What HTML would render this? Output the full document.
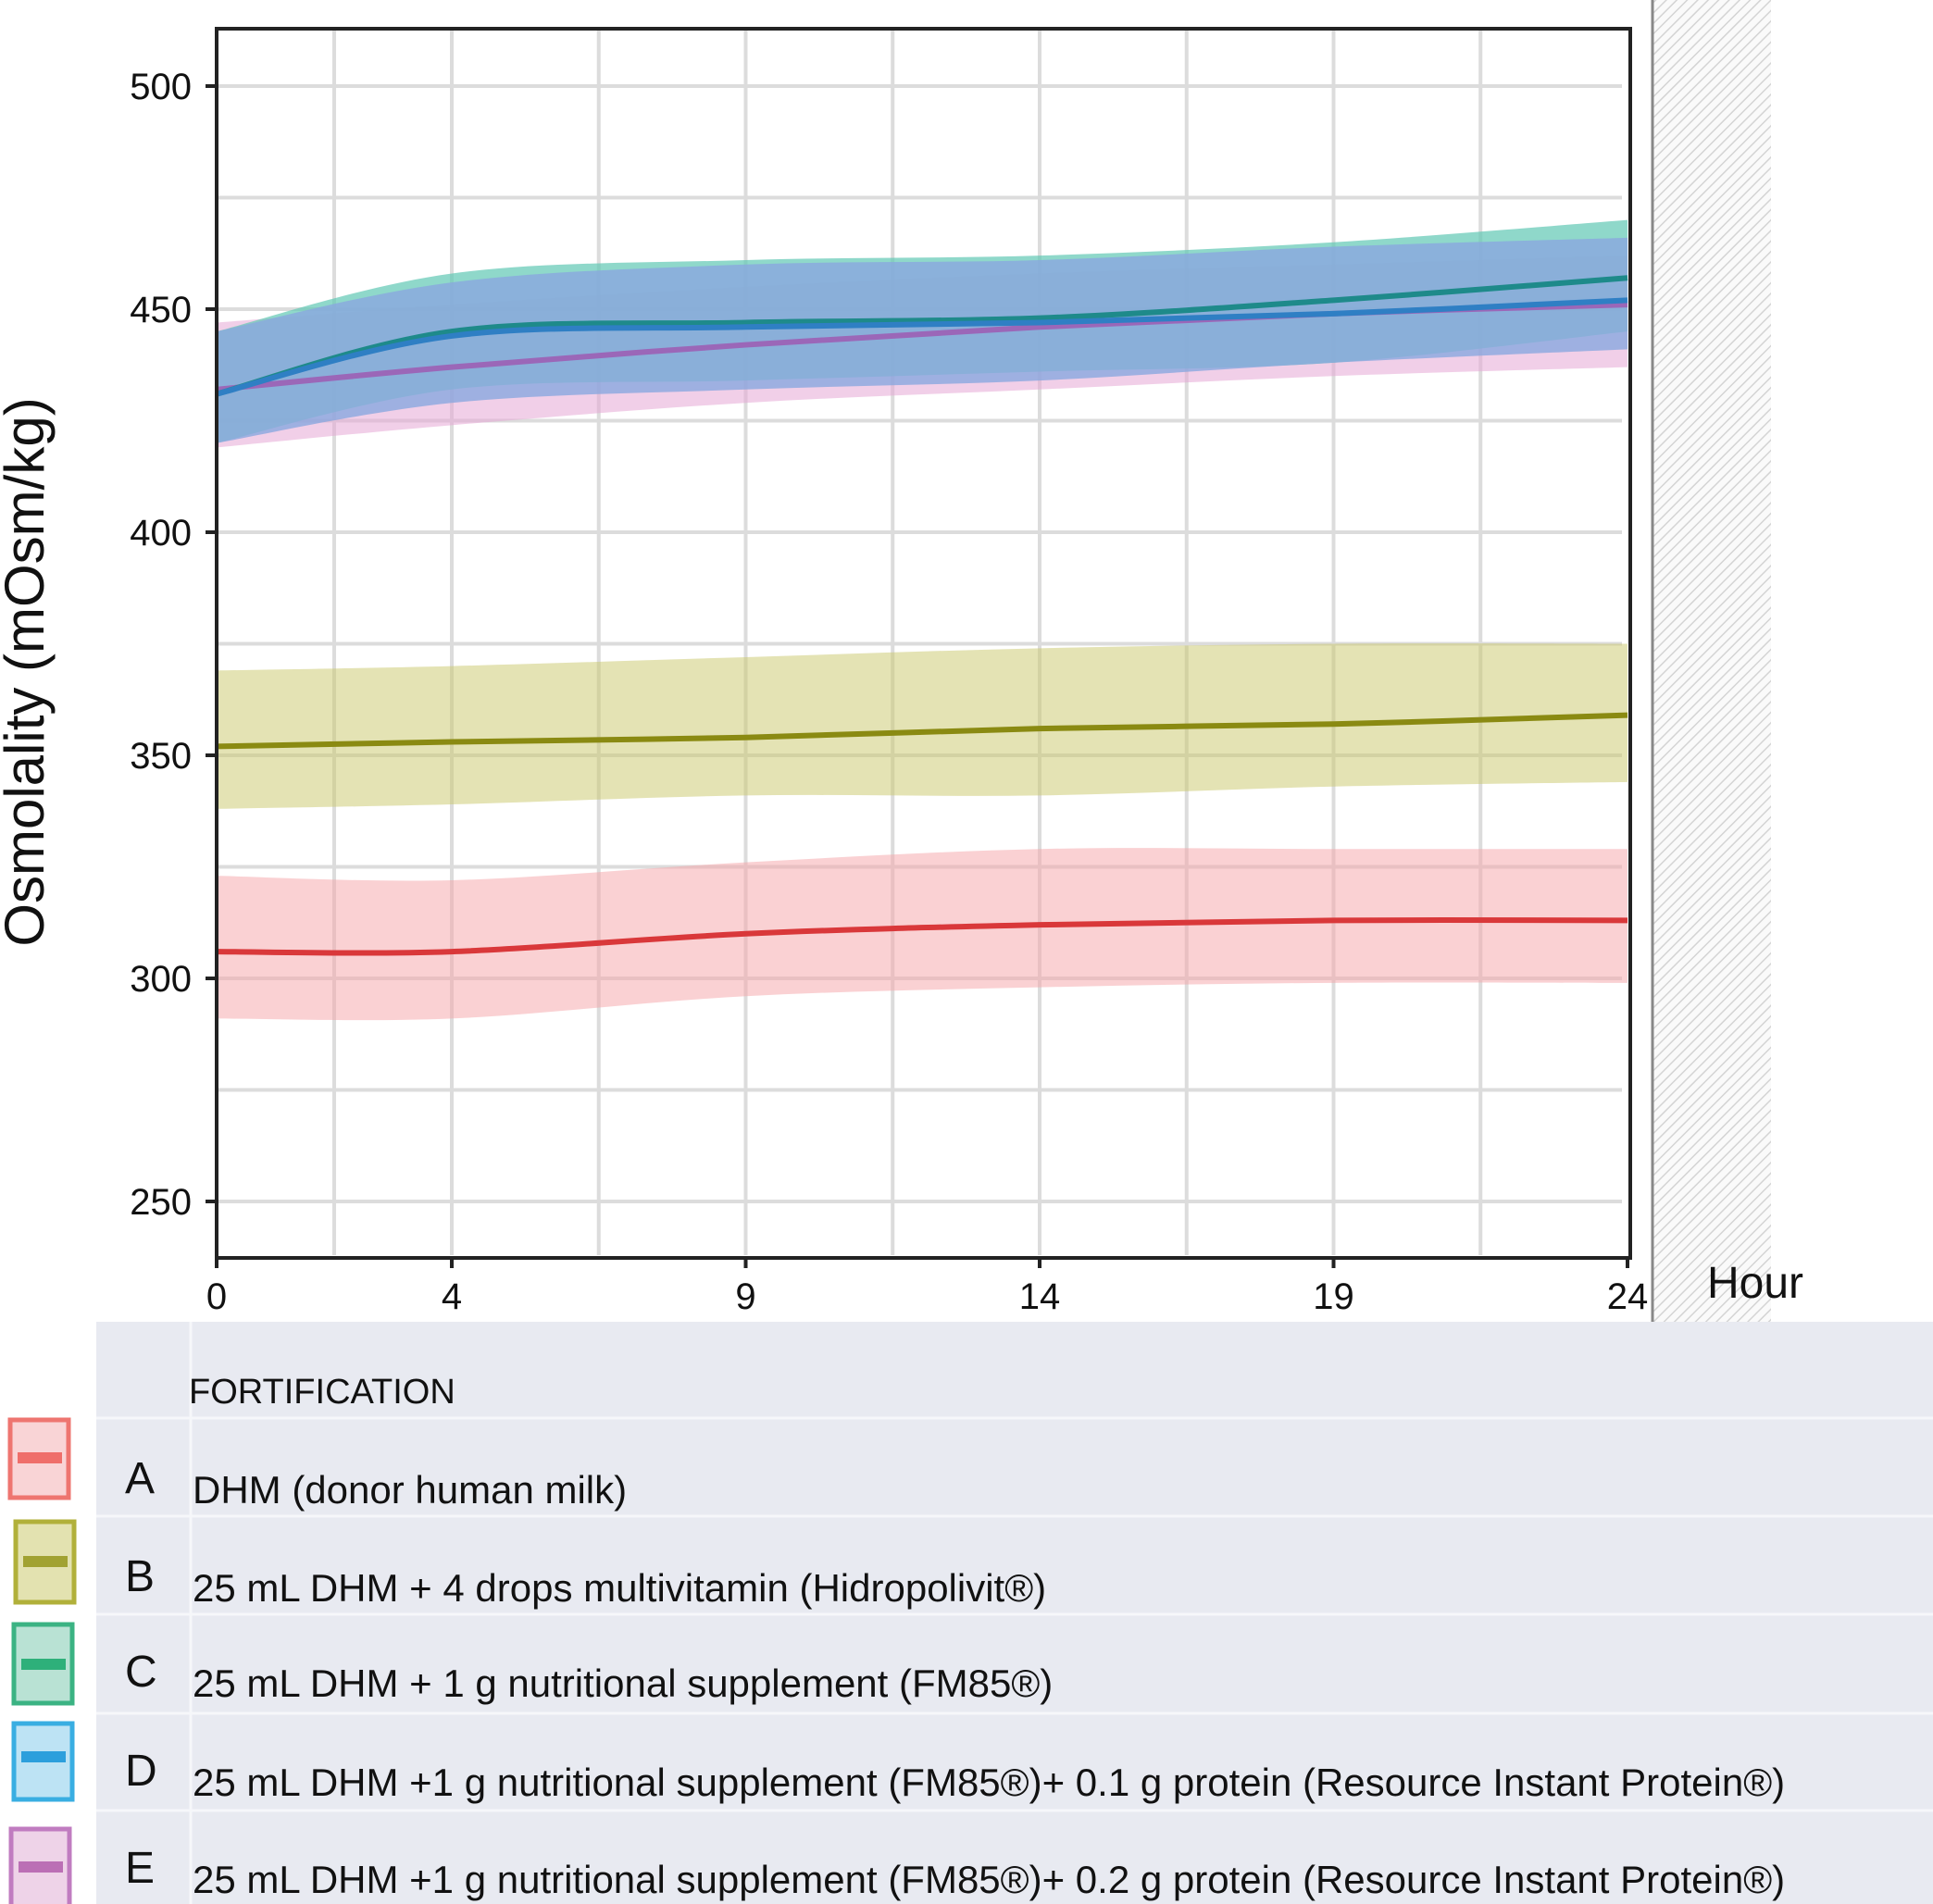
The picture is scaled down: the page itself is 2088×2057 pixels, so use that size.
<!DOCTYPE html>
<html><head><meta charset="utf-8"><style>
body{margin:0;background:#fff;}
svg{display:block;font-family:"Liberation Sans",sans-serif;}
</style></head><body>
<svg id="chart" width="2088" height="2057" viewBox="0 0 2088 2057">
<defs>
<pattern id="hatch" width="8" height="8" patternUnits="userSpaceOnUse" patternTransform="rotate(45)">
<rect width="8" height="8" fill="#fafafa"/><line x1="0" y1="0" x2="0" y2="8" stroke="#d4d4d4" stroke-width="3"/>
</pattern>
</defs>
<rect x="1786" y="0" width="127" height="1428" fill="url(#hatch)"/>
<line x1="1785" y1="0" x2="1785" y2="1428" stroke="#888" stroke-width="3"/>
<g id="grid"></g>
<g id="bands"></g>
<g id="lines"></g>
<rect x="234" y="31" width="1527" height="1328" fill="none" stroke="#222" stroke-width="4"/>
<g id="axes"></g>
<text x="1844" y="1402" font-size="48" fill="#111">Hour</text>
<text transform="translate(47,726) rotate(-90)" text-anchor="middle" font-size="60" fill="#111">Osmolality (mOsm/kg)</text>
<g>
<rect x="104" y="1428" width="1984" height="629" fill="#e8eaf1"/>
<line x1="206" y1="1428" x2="206" y2="2057" stroke="#f6f7fa" stroke-width="3"/>
<g stroke="#f6f7fa" stroke-width="3">
<line x1="104" y1="1532" x2="2088" y2="1532"/><line x1="104" y1="1638" x2="2088" y2="1638"/>
<line x1="104" y1="1744" x2="2088" y2="1744"/><line x1="104" y1="1851" x2="2088" y2="1851"/>
<line x1="104" y1="1956" x2="2088" y2="1956"/>
</g>
<text x="204" y="1516" font-size="38" fill="#111">FORTIFICATION</text>
</g>
<g id="legend-entries"></g>
</svg>
<script>
const hours=[0,4,9,14,19,24];
const xTicks=[0,4,9,14,19,24];
const yTicks=[250,300,350,400,450,500];
const meanA=[306,306,310,312,313,313], loA=[291,291,296,298,299,299], hiA=[323,322,326,329,329,329];
const meanB=[352,353,354,356,357,359], loB=[338,339,341,341,343,344], hiB=[369,370,372,374,375,375];
const meanC=[431,445,447,448,452,457], loC=[420,432,434,436,438,445], hiC=[445,458,461,462,465,470];
const meanD=[431,444,446,447,449,452], loD=[420,429,432,434,438,441], hiD=[445,456,460,461,464,466];
const meanE=[432,437,442,446,449,451], loE=[419,424,429,432,435,437], hiE=[447,451,455,458,460,462];
const letters=["A","B","C","D","E"];
const labels=["DHM (donor human milk)","25 mL DHM + 4 drops multivitamin (Hidropolivit®)","25 mL DHM + 1 g nutritional supplement  (FM85®)","25 mL DHM +1 g nutritional supplement (FM85®)+ 0.1 g protein (Resource Instant Protein®)","25 mL DHM +1 g nutritional supplement (FM85®)+ 0.2 g protein (Resource Instant Protein®)"];
const NS="http://www.w3.org/2000/svg";
const X=h=>234+h*(1758-234)/24;
const Y=v=>93+(500-v)*(1298-93)/250;
function mk(t,a,p){const e=document.createElementNS(NS,t);for(const k in a)e.setAttribute(k,a[k]);p.appendChild(e);return e;}
function smooth(pts){let d="M "+pts[0][0]+" "+pts[0][1];for(let i=0;i<pts.length-1;i++){const p0=pts[Math.max(i-1,0)],p1=pts[i],p2=pts[i+1],p3=pts[Math.min(i+2,pts.length-1)];
const c1=[p1[0]+(p2[0]-p0[0])/6,p1[1]+(p2[1]-p0[1])/6],c2=[p2[0]-(p3[0]-p1[0])/6,p2[1]-(p3[1]-p1[1])/6];d+=" C "+c1[0]+" "+c1[1]+" "+c2[0]+" "+c2[1]+" "+p2[0]+" "+p2[1];}return d;}
const grid=document.getElementById('grid');
for(let v=250;v<=500;v+=25){const l=mk('line',{x1:236,x2:1752,y1:Y(v),y2:Y(v),stroke:'#dcdcdc','stroke-width':4},grid);

}
[0,2,4,6.5,9,11.5,14,16.5,19,21.5].forEach(h=>{const l=mk('line',{x1:X(h),x2:X(h),y1:33,y2:1356,stroke:'#dcdcdc','stroke-width':4},grid);

});
const series=[
 {n:'a',m:meanA,lo:loA,hi:hiA,fill:'#f5a3a8',fo:0.5,line:'#d9383a'},
 {n:'b',m:meanB,lo:loB,hi:hiB,fill:'#c9c76a',fo:0.5,line:'#8a8a12'},
 {n:'e',m:meanE,lo:loE,hi:hiE,fill:'#e6a8d6',fo:0.55,line:'#9b67b8'},
 {n:'c',m:meanC,lo:loC,hi:hiC,fill:'#5fc8b4',fo:0.7,line:'#1e8a8a'},
 {n:'d',m:meanD,lo:loD,hi:hiD,fill:'#8aa8de',fo:0.8,line:'#2f7fc4'}];
const bands=document.getElementById('bands'),lines=document.getElementById('lines');
series.forEach(s=>{
 const up=hours.map((h,i)=>[X(h),Y(s.hi[i])]),dn=hours.map((h,i)=>[X(h),Y(s.lo[i])]).reverse();
 const d=smooth(up)+" L"+smooth(dn).slice(1)+" Z";
 const b=mk('path',{d:d,fill:s.fill,'fill-opacity':s.fo},bands);
 
 
 const l=mk('path',{d:smooth(hours.map((h,i)=>[X(h),Y(s.m[i])])),fill:'none',stroke:s.line,'stroke-width':6},lines);
 
 
});
const axes=document.getElementById('axes');
yTicks.forEach(v=>{mk('line',{x1:222,x2:234,y1:Y(v),y2:Y(v),stroke:'#222','stroke-width':4},axes);
const t=mk('text',{x:207,y:Y(v)+14,'text-anchor':'end','font-size':40,fill:'#111'},axes);t.textContent=v;

});
xTicks.forEach(h=>{mk('line',{x1:X(h),x2:X(h),y1:1359,y2:1370,stroke:'#222','stroke-width':4},axes);
const t=mk('text',{x:X(h),y:1414,'text-anchor':'middle','font-size':40,fill:'#111'},axes);t.textContent=h;

});
const lg=document.getElementById('legend-entries');
const sw=[['#f9d4d6','#ee7570','#ef6e6a',11,1534,1618,1575],['#e3e2b0','#b1b03a','#a1a232',17,1644,1731,1687],['#b9e2d4','#3bb383','#2eb07a',15,1755,1840,1798],['#bde3f4','#39aee2','#2c9fdc',15,1862,1944,1898],['#eed3e8','#c07cc0','#bb6fb5',12,1976,2070,2017]];
const rowY=[1624,1730,1833,1940,2045];
letters.forEach((L,i)=>{const s=sw[i];
 const r=mk('rect',{x:s[3],y:s[4],width:63,height:s[5]-s[4],fill:s[0],stroke:s[1],'stroke-width':5},lg);
 
 
 mk('rect',{x:s[3]+8,y:s[6]-6,width:48,height:12,fill:s[2]},lg);
 const t=mk('text',{x:135,y:rowY[i]-11,'font-size':48,fill:'#111'},lg);t.textContent=L;
 
 
 const t2=mk('text',{x:208,y:rowY[i],'font-size':42,fill:'#111'},lg);t2.textContent=labels[i];
 
 
});
</script>
</body></html>
